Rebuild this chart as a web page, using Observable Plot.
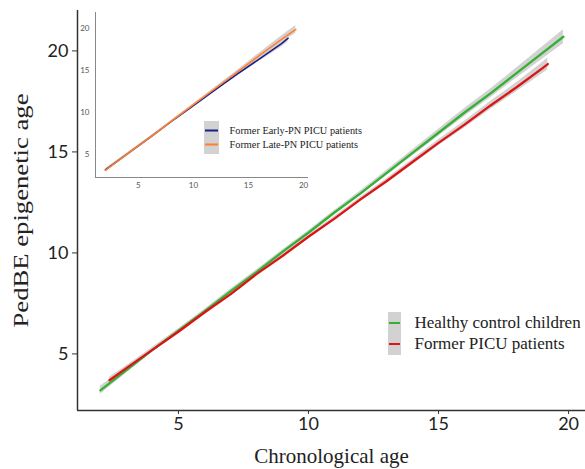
<!DOCTYPE html>
<html>
<head>
<meta charset="utf-8">
<script src="https://cdn.jsdelivr.net/npm/d3@7"></script>
<script src="https://cdn.jsdelivr.net/npm/@observablehq/plot@0.6"></script>
<style>
  html, body { margin: 0; padding: 0; background: #fff; }
  #wrap { position: relative; width: 585px; height: 469px; overflow: hidden; }
  #wrap > svg { position: absolute; }
</style>
</head>
<body>
<div id="wrap"></div>
<script>
// ---- Main chart data ----
const healthyAge = [2.0, 3, 4, 5, 6, 7, 8, 9, 10, 11, 12, 13, 14, 15, 16, 17, 18, 19, 19.8];
const healthyPed = [3.2, 4.2, 5.2, 6.15, 7.1, 8.1, 9.05, 10.05, 11.0, 12.0, 12.95, 13.95, 14.95, 15.95, 16.95, 17.9, 18.9, 19.9, 20.7];
const healthySE  = [0.2, 0.15, 0.12, 0.1, 0.1, 0.1, 0.1, 0.1, 0.1, 0.1, 0.12, 0.13, 0.15, 0.17, 0.2, 0.22, 0.25, 0.3, 0.35];

const picuAge = [2.35, 3, 4, 5, 6, 7, 8, 9, 10, 11, 12, 13, 14, 15, 16, 17, 18, 19, 19.2];
const picuPed = [3.7, 4.3, 5.2, 6.1, 7.05, 7.95, 8.95, 9.85, 10.8, 11.7, 12.65, 13.55, 14.5, 15.45, 16.35, 17.3, 18.2, 19.15, 19.35];
const picuSE  = [0.15, 0.12, 0.1, 0.08, 0.08, 0.08, 0.08, 0.08, 0.08, 0.1, 0.1, 0.12, 0.13, 0.15, 0.17, 0.2, 0.22, 0.27, 0.3];

// ---- Inset data ----
const earlyAge = [2.0, 4, 6, 8, 10, 12, 14, 16, 18, 18.6];
const earlyPed = [3.2, 5.1, 7.0, 8.95, 10.85, 12.75, 14.6, 16.4, 18.2, 18.85];
const earlySE  = [0.15, 0.1, 0.1, 0.1, 0.1, 0.15, 0.2, 0.3, 0.4, 0.45];

const lateAge = [2.0, 4, 6, 8, 10, 12, 14, 16, 18, 19.3];
const latePed = [3.15, 5.1, 7.0, 9.0, 10.95, 12.9, 14.85, 16.8, 18.7, 19.9];
const lateSE  = [0.15, 0.1, 0.1, 0.1, 0.1, 0.15, 0.2, 0.3, 0.4, 0.45];

const mainTicks = [5, 10, 15, 20];
const insetTicks = [5, 10, 15, 20];
const xLabel = "Chronological age";
const yLabel = "PedBE epigenetic age";
const mainLegend = ["Healthy control children", "Former PICU patients"];
const insetLegend = ["Former Early-PN PICU patients", "Former Late-PN PICU patients"];

const mainXDomain = [1.12, 20.65];
const mainYDomain = [2.2, 22.0];
const insetXDomain = [1.1, 20.45];
const insetYDomain = [2.3, 21.9];

const colors = { healthy: "#34b034", picu: "#dd1414", early: "#1c1c8a", late: "#ff7f2a", band: "#d2d2d2" };

function rows(ages, vals, se) {
  return ages.map((a, i) => ({ x: a, y: vals[i], lo: vals[i] - se[i], hi: vals[i] + se[i] }));
}
const healthy = rows(healthyAge, healthyPed, healthySE);
const picu = rows(picuAge, picuPed, picuSE);
const early = rows(earlyAge, earlyPed, earlySE);
const late = rows(lateAge, latePed, lateSE);

const wrap = document.getElementById("wrap");
const serif = "Liberation Serif";

// ---- Main plot ----
const main = Plot.plot({
  width: 585, height: 469,
  marginLeft: 77, marginRight: 0, marginTop: 10, marginBottom: 59,
  x: { domain: mainXDomain },
  y: { domain: mainYDomain },
  style: { fontFamily: "Lato", fontSize: "18px", color: "#222", background: "transparent" },
  marks: [
    Plot.areaY(healthy, { x: "x", y1: "lo", y2: "hi", fill: colors.band, curve: "linear" }),
    Plot.areaY(picu, { x: "x", y1: "lo", y2: "hi", fill: colors.band, curve: "linear" }),
    Plot.line(healthy, { x: "x", y: "y", stroke: colors.healthy, strokeWidth: 2.3 }),
    Plot.line(picu, { x: "x", y: "y", stroke: colors.picu, strokeWidth: 2.3 }),
    Plot.ruleX([mainXDomain[0]], { stroke: "#333", strokeWidth: 1.5 }),
    Plot.ruleY([mainYDomain[0]], { stroke: "#333", strokeWidth: 1.5 }),
    Plot.axisX(mainTicks, { tickSize: 4, tickPadding: 3, label: null, stroke: "#333" }),
    Plot.axisY(mainTicks, { tickSize: 5, tickPadding: 4, label: null, stroke: "#333" }),
    Plot.text([xLabel], { frameAnchor: "bottom", dy: 46, lineAnchor: "middle", textAnchor: "middle", fontFamily: serif, fontSize: 21, fill: "#222" }),
    Plot.text([yLabel], { frameAnchor: "left", dx: -56, rotate: -90, textAnchor: "middle", lineAnchor: "middle", fontFamily: serif, fontSize: 21, fill: "#222", className: "ylab" }),
    Plot.text([mainLegend[0]], { frameAnchor: "top-left", dx: 337, dy: 312, textAnchor: "start", lineAnchor: "middle", fontFamily: serif, fontSize: 17, fill: "#222" }),
    Plot.text([mainLegend[1]], { frameAnchor: "top-left", dx: 337, dy: 333, textAnchor: "start", lineAnchor: "middle", fontFamily: serif, fontSize: 17, fill: "#222" })
  ]
});
main.style.left = "0px"; main.style.top = "0px";
wrap.appendChild(main);
// reference y title is drawn a bit wider than the x title
d3.select(main).selectAll("g.ylab text").attr("textLength", 234).attr("lengthAdjust", "spacingAndGlyphs");

// ---- Inset plot ----
const inset = Plot.plot({
  width: 245, height: 195,
  marginLeft: 25, marginRight: 7, marginTop: 12, marginBottom: 18,
  x: { domain: insetXDomain },
  y: { domain: insetYDomain },
  style: { fontFamily: "Lato", fontSize: "8px", color: "#555", background: "transparent", overflow: "visible" },
  marks: [
    Plot.areaY(early, { x: "x", y1: "lo", y2: "hi", fill: colors.band }),
    Plot.areaY(late, { x: "x", y1: "lo", y2: "hi", fill: colors.band }),
    Plot.line(early, { x: "x", y: "y", stroke: colors.early, strokeWidth: 1.5 }),
    Plot.line(late, { x: "x", y: "y", stroke: colors.late, strokeWidth: 1.5 }),
    Plot.ruleX([insetXDomain[0]], { stroke: "#888", strokeWidth: 1 }),
    Plot.ruleY([insetYDomain[0]], { stroke: "#888", strokeWidth: 1 }),
    Plot.axisX(insetTicks, { tickSize: 0, tickPadding: 5, label: null }),
    Plot.axisY(insetTicks, { tickSize: 0, tickPadding: 6, label: null }),
    Plot.text([insetLegend[0]], { frameAnchor: "top-left", dx: 134, dy: 118, textAnchor: "start", lineAnchor: "middle", fontFamily: serif, fontSize: 10.3, fill: "#222" }),
    Plot.text([insetLegend[1]], { frameAnchor: "top-left", dx: 134, dy: 132, textAnchor: "start", lineAnchor: "middle", fontFamily: serif, fontSize: 10.3, fill: "#222" })
  ]
});
inset.style.left = "70px"; inset.style.top = "0px";
wrap.appendChild(inset);

// ---- Legend swatches ----
function swatch(x, y, w, h, rowGap, cols) {
  const svg = d3.create("svg").attr("width", w).attr("height", h)
    .style("left", x + "px").style("top", y + "px");
  svg.append("rect").attr("x", 0).attr("y", 0).attr("width", w).attr("height", h).attr("fill", colors.band);
  cols.forEach((c, i) => {
    const cy = h / 2 + (i - 0.5) * rowGap;
    svg.append("line").attr("x1", 1).attr("x2", w - 1).attr("y1", cy).attr("y2", cy)
      .attr("stroke", c).attr("stroke-width", 2);
  });
  wrap.appendChild(svg.node());
}
swatch(388, 312, 13, 43, 21, [colors.healthy, colors.picu]);
swatch(204, 121, 15, 33, 14, [colors.early, colors.late]);
</script>
</body>
</html>
